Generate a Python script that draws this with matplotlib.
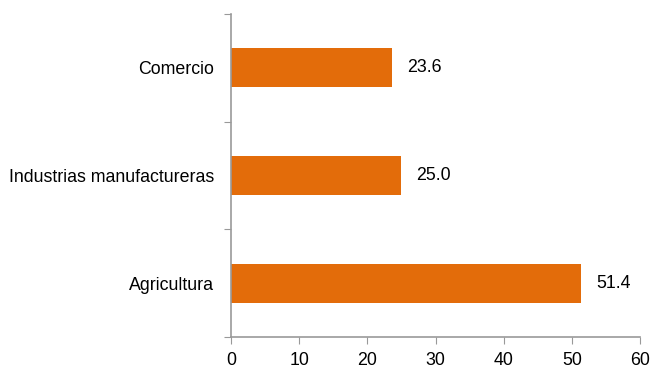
import matplotlib
matplotlib.use('Agg')
import matplotlib.pyplot as plt

# categories from bottom to top
categorias = ['Agricultura', 'Industrias manufactureras', 'Comercio']
valores = [51.4, 25.0, 23.6]
ticks_x = [0, 10, 20, 30, 40, 50, 60]

plt.rcParams['font.family'] = ['Liberation Sans', 'DejaVu Sans']
fs = 12.8

fig = plt.figure(figsize=(6.53, 3.69), dpi=100)
ax = fig.add_axes([231 / 653, 1 - 337 / 369, (640 - 231) / 653, (337 - 14) / 369])

pos = range(len(categorias))
ax.barh(pos, valores, height=0.36, color='#E36C0A')
for p, v in zip(pos, valores):
    ax.text(v + 2.2, p, f'{v:.1f}', va='center', ha='left', fontsize=fs)

ax.set_xlim(0, 60)
ax.set_ylim(-0.5, 2.5)
ax.set_xticks(ticks_x)
ax.set_yticks([-0.5, 0.5, 1.5, 2.5])
ax.set_yticklabels([])
ax.set_yticks(list(pos), minor=True)
ax.set_yticklabels(categorias, minor=True, fontsize=fs)
ax.tick_params(axis='y', which='minor', length=0, pad=12)
ax.tick_params(axis='y', which='major', length=5, color='#999999')
ax.tick_params(axis='x', length=5, color='#999999', labelsize=fs, pad=6)

for s in ['top', 'right']:
    ax.spines[s].set_visible(False)
for s in ['left', 'bottom']:
    ax.spines[s].set_color('#999999')
    ax.spines[s].set_linewidth(1.2)

fig.savefig('out.png', dpi=100)
